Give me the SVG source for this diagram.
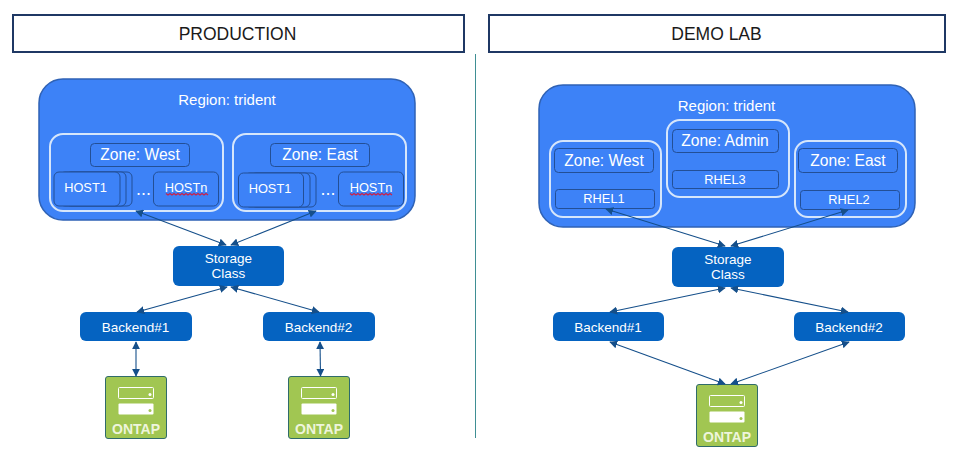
<svg xmlns="http://www.w3.org/2000/svg" width="961" height="469" viewBox="0 0 961 469">
<style>
text{font-family:"Liberation Sans",Arial,sans-serif;fill:#fff;text-anchor:middle}
.title{fill:#fff;stroke:#1f3864;stroke-width:2}
.ttext{fill:#1a1a1a;font-size:17.5px}
.region{fill:#3d82f7;stroke:#2f62b5;stroke-width:1.5}
.zone{fill:none;stroke:#d6e6fb;stroke-width:2}
.box{fill:#3d82f7;stroke:#234f96;stroke-width:1}
.blue{fill:#0563c1}
.t14{font-size:15px}
.t15{font-size:15.600px}
.t13{font-size:13.5px}
.th{font-size:12.800px}
.ontap{fill:#a1c652;stroke:#2f6b6b;stroke-width:1}
.o{font-weight:700;font-size:14px}
.s1{fill:none;stroke:#fff;stroke-width:1}
.s2{fill:#fff}
.d1{fill:#fff}
.d2{fill:#a1c652}
.c line{stroke:#154f8a;stroke-width:1.1;marker-start:url(#a);marker-end:url(#a)}
.wavy{fill:none;stroke:#c8234a;stroke-width:1.200}
.dots{font-size:18px}
</style>
<defs>
<marker id="a" viewBox="0 0 10 10" refX="9" refY="5" markerWidth="8" markerHeight="8" markerUnits="userSpaceOnUse" orient="auto-start-reverse"><path d="M0 0L10 5L0 10Z" fill="#154f8a"/></marker>
<g id="ont">
<rect class="ontap" x="0" y="0" width="61" height="62" rx="2.5"/>
<rect class="s1" x="13" y="11" width="35" height="11" rx="1"/>
<circle class="d1" cx="44.5" cy="18" r="1.5"/>
<rect class="s2" x="13" y="27" width="35" height="11" rx="1"/>
<circle class="d2" cx="44.5" cy="34" r="1.5"/>
<text class="o" x="30.5" y="57" style="fill:#eef5dc">ONTAP</text>
</g>
</defs>

<line x1="475.5" y1="54" x2="475.5" y2="438" stroke="#3f8f94" stroke-width="1"/>

<g id="title-production"><rect class="title" x="13" y="15" width="451" height="37"/><text class="ttext" x="237.500" y="39.500" style="fill:#1a1a1a">PRODUCTION</text></g>
<g id="title-demo"><rect class="title" x="489" y="15" width="456" height="37"/><text class="ttext" x="716.500" y="39.500" style="fill:#1a1a1a">DEMO LAB</text></g>

<g id="region-prod"><rect class="region" x="39" y="79" width="376" height="141" rx="24"/><text class="t14" x="227" y="105">Region: trident</text></g>
<g id="zone-prod-west"><rect class="zone" x="50" y="134" width="173" height="77" rx="13"/>
<rect class="box" x="90.500" y="143.500" width="99" height="23" rx="4"/><text class="t15" x="140" y="160">Zone: West</text></g>
<g id="zone-prod-east"><rect class="zone" x="233" y="134" width="173" height="77" rx="13"/>
<rect class="box" x="270.500" y="143.500" width="99" height="23" rx="4"/><text class="t15" x="320" y="160">Zone: East</text></g>
<g id="prod-w-host1">
<rect class="box" x="66" y="172" width="66" height="34" rx="5"/><rect class="box" x="60" y="172" width="66" height="34" rx="5"/><rect class="box" x="54" y="172" width="66" height="34" rx="5"/>
<text class="th" x="85.500" y="192">HOST1</text></g>
<g id="prod-w-hostn"><rect class="box" x="153.500" y="172" width="65" height="34" rx="5"/><text class="th" x="186" y="192">HOSTn</text><polyline class="wavy" points="166,193.500 168,195 170,193.500 172,195 174,193.500 176,195 178,193.500 180,195 182,193.500 184,195 186,193.500 188,195 190,193.500 192,195 194,193.500 196,195 198,193.500 200,195 202,193.500 204,195 206,193.500 208,195"/></g>
<text class="dots" x="143.500" y="194.500">...</text>
<g id="prod-e-host1">
<rect class="box" x="251" y="173" width="65" height="34" rx="5"/><rect class="box" x="245" y="173" width="65" height="34" rx="5"/><rect class="box" x="238.500" y="173" width="65" height="34" rx="5"/>
<text class="th" x="270" y="193">HOST1</text></g>
<g id="prod-e-hostn"><rect class="box" x="338.500" y="172" width="65" height="34" rx="5"/><text class="th" x="371" y="192">HOSTn</text><polyline class="wavy" points="350,193.500 352,195 354,193.500 356,195 358,193.500 360,195 362,193.500 364,195 366,193.500 368,195 370,193.500 372,195 374,193.500 376,195 378,193.500 380,195 382,193.500 384,195 386,193.500 388,195 390,193.500 392,195"/></g>
<text class="dots" x="328" y="195">...</text>

<g id="sc-prod"><rect class="blue" x="173" y="246" width="111" height="40" rx="6"/><text class="t13" x="228.500" y="263">Storage</text><text class="t13" x="228.500" y="278">Class</text></g>
<g id="be1-prod"><rect class="blue" x="80" y="312" width="112" height="29" rx="6"/><text class="t13" x="135.500" y="332">Backend#1</text></g>
<g id="be2-prod"><rect class="blue" x="263" y="312" width="112" height="29" rx="6"/><text class="t13" x="318.500" y="332">Backend#2</text></g>
<g id="ontap-prod1"><use href="#ont" x="105.500" y="376.500"/></g>
<g id="ontap-prod2"><use href="#ont" x="288.500" y="376.500"/></g>

<g id="region-demo"><rect class="region" x="539" y="85" width="376" height="142" rx="24"/><text class="t14" x="726.500" y="111">Region: trident</text></g>
<g id="zone-demo-west"><rect class="zone" x="550" y="141" width="111" height="76" rx="13"/>
<rect class="box" x="554.500" y="148.500" width="99" height="24" rx="4"/><text class="t15" x="604" y="166">Zone: West</text>
<rect class="box" x="555.500" y="189.500" width="99" height="19" rx="3"/><text class="th" x="604" y="203">RHEL1</text></g>
<g id="zone-demo-admin"><rect class="zone" x="667" y="120" width="122" height="77" rx="13"/>
<rect class="box" x="672.500" y="129.500" width="106" height="23" rx="4"/><text class="t15" x="725" y="146">Zone: Admin</text>
<rect class="box" x="672.500" y="170.500" width="106" height="18" rx="3"/><text class="th" x="725" y="184">RHEL3</text></g>
<g id="zone-demo-east"><rect class="zone" x="795" y="141" width="111" height="76" rx="13"/>
<rect class="box" x="798.500" y="148.500" width="99" height="24" rx="4"/><text class="t15" x="848" y="166">Zone: East</text>
<rect class="box" x="800.500" y="190.500" width="99" height="19" rx="3"/><text class="th" x="849" y="204">RHEL2</text></g>

<g id="sc-demo"><rect class="blue" x="672" y="247" width="112" height="40" rx="6"/><text class="t13" x="728" y="264">Storage</text><text class="t13" x="728" y="279">Class</text></g>
<g id="be1-demo"><rect class="blue" x="553" y="312" width="111" height="29" rx="6"/><text class="t13" x="608" y="332">Backend#1</text></g>
<g id="be2-demo"><rect class="blue" x="794" y="312" width="111" height="29" rx="6"/><text class="t13" x="849" y="332">Backend#2</text></g>
<g id="ontap-demo"><use href="#ont" x="696.500" y="384.500"/></g>

<g id="connectors" class="c">
<line x1="136" y1="211" x2="226" y2="245"/>
<line x1="316" y1="211" x2="231" y2="245"/>
<line x1="227" y1="287" x2="137" y2="312"/>
<line x1="231" y1="287" x2="319" y2="312"/>
<line x1="136" y1="342" x2="136" y2="376"/>
<line x1="320" y1="342" x2="320.500" y2="376"/>
<line x1="606" y1="209" x2="725" y2="246"/>
<line x1="848" y1="210" x2="731" y2="246"/>
<line x1="725" y1="288" x2="610" y2="312"/>
<line x1="731" y1="288" x2="848" y2="312"/>
<line x1="610" y1="342" x2="725" y2="384"/>
<line x1="849" y1="342" x2="731" y2="384"/>
</g>
</svg>
